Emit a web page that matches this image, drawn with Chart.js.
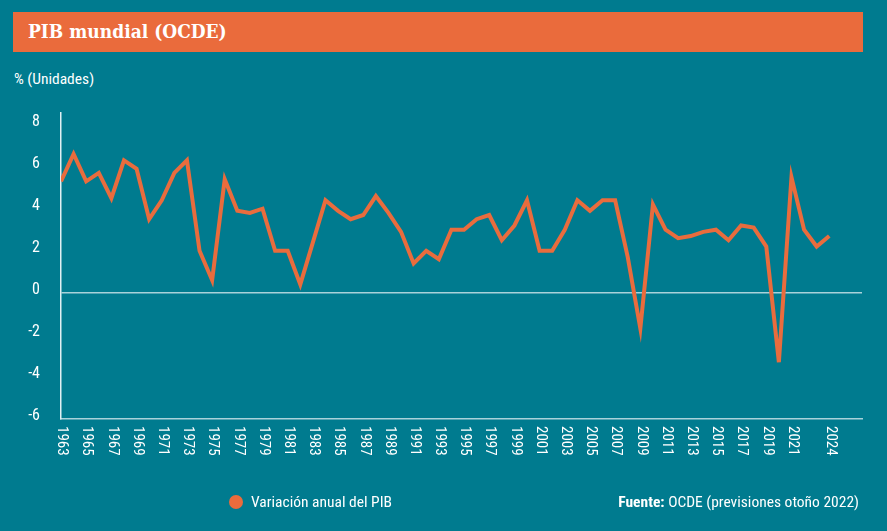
<!DOCTYPE html>
<html>
<head>
<meta charset="utf-8">
<script src="https://cdn.jsdelivr.net/npm/chart.js@4.4.1/dist/chart.umd.min.js"></script>
<style>
  body { margin: 0; width: 887px; height: 531px; overflow: hidden; position: relative; background: #007b8f;
    font-family: "Roboto Condensed", "Liberation Sans Narrow", "DejaVu Sans Condensed", Roboto, sans-serif; color: #fff; }
  #title { position: absolute; left: 13px; top: 12px; width: 850px; height: 40px; background: #ea6b3c; }
  #title span { position: absolute; left: 15px; top: 8px; font: bold 19px "Roboto Slab", "DejaVu Serif Condensed", "DejaVu Serif", serif; color: #fff; }
  #unit { position: absolute; left: 14px; top: 70px; font-size: 15.5px; }
  #wrap { position: absolute; left: 0; top: 0; width: 887px; height: 531px; }
  #legend { position: absolute; left: 229px; top: 493px; font-size: 15.5px; }
  #legend i { display: inline-block; width: 14px; height: 14px; border-radius: 50%; background: #ea6b3c; vertical-align: -2px; margin-right: 8px; }
  #source { position: absolute; right: 28px; top: 493px; font-size: 15.5px; }
</style>
</head>
<body>
<div id="title"><span>PIB mundial (OCDE)</span></div>
<div id="unit">% (Unidades)</div>
<div id="wrap"><canvas id="gdpChart"></canvas></div>
<div id="legend"><i></i>Variación anual del PIB</div>
<div id="source"><b>Fuente:</b> OCDE (previsiones otoño 2022)</div>
<script>
const FONT = '"Roboto Condensed", "Liberation Sans Narrow", "DejaVu Sans Condensed", Roboto, sans-serif';

// years and annual world GDP change (%)
const years = [1963, 1964, 1965, 1966, 1967, 1968, 1969, 1970, 1971, 1972,
  1973, 1974, 1975, 1976, 1977, 1978, 1979, 1980, 1981, 1982,
  1983, 1984, 1985, 1986, 1987, 1988, 1989, 1990, 1991, 1992,
  1993, 1994, 1995, 1996, 1997, 1998, 1999, 2000, 2001, 2002,
  2003, 2004, 2005, 2006, 2007, 2008, 2009, 2010, 2011, 2012,
  2013, 2014, 2015, 2016, 2017, 2018, 2019, 2020, 2021, 2022,
  2023, 2024];
const gdpChange = [5.3, 6.6, 5.3, 5.7, 4.5, 6.3, 5.9, 3.5, 4.4, 5.7,
  6.3, 2.0, 0.6, 5.4, 3.9, 3.8, 4.0, 2.0, 2.0, 0.4,
  2.4, 4.4, 3.9, 3.5, 3.7, 4.6, 3.8, 2.9, 1.4, 2.0,
  1.6, 3.0, 3.0, 3.5, 3.7, 2.5, 3.2, 4.4, 2.0, 2.0,
  3.0, 4.4, 3.9, 4.4, 4.4, 1.7, -1.7, 4.2, 3.0, 2.6,
  2.7, 2.9, 3.0, 2.5, 3.2, 3.1, 2.2, -3.3, 5.5, 3.0,
  2.2, 2.7];

// tick labels
const xTickYears = [1963, 1965, 1967, 1969, 1971, 1973, 1975, 1977, 1979, 1981,
  1983, 1985, 1987, 1989, 1991, 1993, 1995, 1997, 1999, 2001,
  2003, 2005, 2007, 2009, 2011, 2013, 2015, 2017, 2019, 2021, 2024];
const yTicks = [-6, -4, -2, 0, 2, 4, 6, 8];

// x labels read top to bottom, so draw them ourselves
const xLabels = {
  id: 'xLabels',
  afterDraw(chart) {
    const ctx = chart.ctx;
    const sx = chart.scales.x;
    ctx.save();
    ctx.fillStyle = '#ffffff';
    ctx.font = '15px ' + FONT;
    ctx.textAlign = 'left';
    ctx.textBaseline = 'middle';
    xTickYears.forEach(y => {
      ctx.save();
      ctx.translate(sx.getPixelForValue(y) + 1, 426);
      ctx.rotate(Math.PI / 2);
      ctx.fillText(String(y), 0, 0);
      ctx.restore();
    });
    ctx.restore();
  }
};

new Chart(document.getElementById('gdpChart'), {
  type: 'line',
  data: {
    datasets: [{
      label: 'Variación anual del PIB',
      data: years.map((y, i) => ({ x: y, y: gdpChange[i] })),
      borderColor: '#e96c3d',
      backgroundColor: '#e96c3d',
      borderWidth: 4,
      borderJoinStyle: 'miter',
      pointRadius: 0,
      tension: 0
    }]
  },
  options: {
    responsive: true,
    maintainAspectRatio: false,
    animation: false,
    layout: { padding: { top: 113, right: 25, bottom: 0, left: 0 } },
    plugins: { legend: { display: false }, tooltip: { enabled: false } },
    scales: {
      x: {
        type: 'linear',
        min: 1963,
        max: 2026.6,
        grid: { display: false },
        border: { color: '#a9d2da', width: 1.5 },
        ticks: { display: false },
        afterFit: s => { s.height = 112; }
      },
      y: {
        min: -6,
        max: 8.55,
        afterBuildTicks: s => { s.ticks = yTicks.map(v => ({ value: v })); },
        grid: {
          color: c => c.tick && c.tick.value === 0 ? '#a9d2da' : 'rgba(0,0,0,0)',
          lineWidth: 1.5,
          drawTicks: false
        },
        border: { color: '#dff0f3', width: 1.5 },
        ticks: { color: '#ffffff', padding: 21, labelOffset: -3, font: { family: FONT, size: 16 } },
        afterFit: s => { s.width = 61; }
      }
    }
  },
  plugins: [xLabels]
});
</script>
</body>
</html>
